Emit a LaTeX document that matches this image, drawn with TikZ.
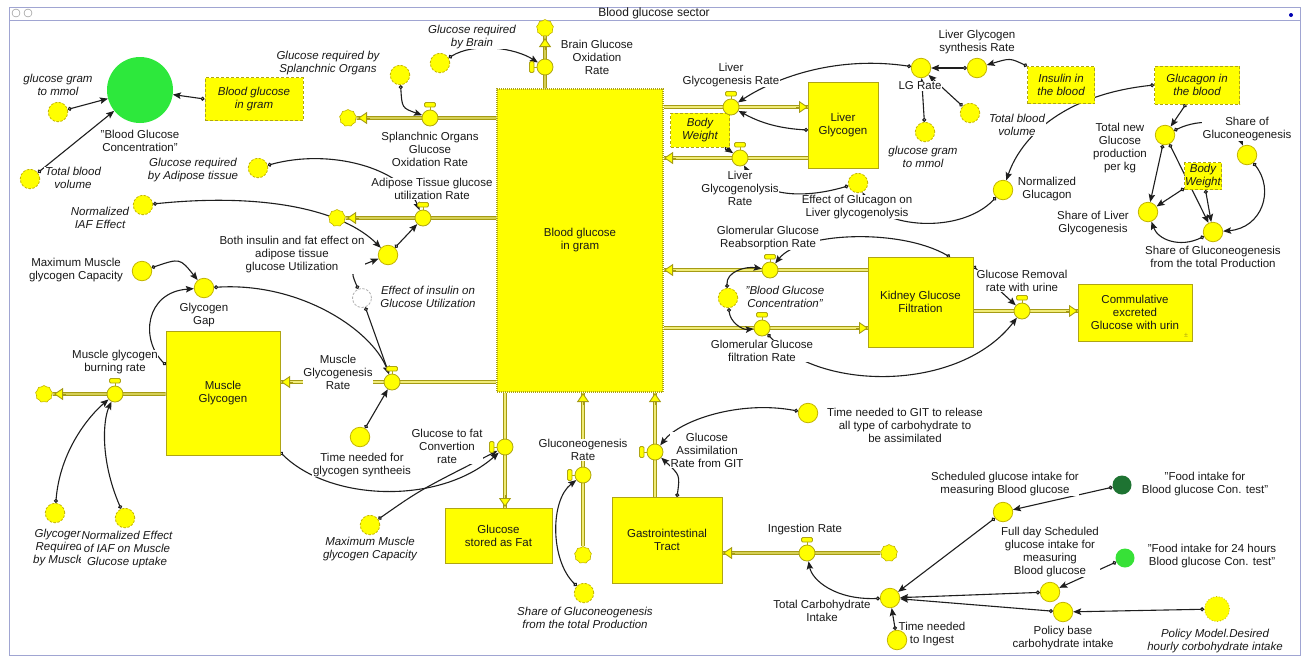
\documentclass[tikz,border=0pt]{standalone}
\usepackage{fontspec}
\setmainfont{Liberation Sans}
\usetikzlibrary{arrows.meta,shapes.symbols}
\definecolor{yel}{RGB}{255,255,0}
\definecolor{stockc}{RGB}{175,165,20}
\definecolor{pipec}{RGB}{165,155,20}
\definecolor{pipein}{RGB}{240,235,120}
\definecolor{convc}{RGB}{195,180,0}
\definecolor{connc}{RGB}{30,30,30}
\definecolor{txtc}{RGB}{25,25,25}
\definecolor{gbright}{RGB}{45,232,60}
\definecolor{glight}{RGB}{55,225,55}
\definecolor{gdark}{RGB}{30,115,50}
\definecolor{framec}{RGB}{160,165,210}
\pgfdeclarelayer{pipes}\pgfdeclarelayer{conns}\pgfdeclarelayer{labels}
\pgfsetlayers{pipes,conns,labels,main}
\newcommand\lblfont{\fontsize{11.5}{13}\selectfont}
\newcommand\ilblfont{\fontsize{11.5}{13}\selectfont\itshape}
\tikzset{
 lbl/.style={font=\lblfont, align=center, inner sep=0.6pt, fill=white, text=txtc},
 ilbl/.style={lbl, font=\ilblfont},
 stock/.style={draw=stockc, fill=yel, line width=0.9pt, font=\lblfont, align=center, text=txtc, inner sep=0},
 conv/.style={circle, draw=convc, fill=yel, line width=0.8pt, minimum size=19.5pt, inner sep=0},
 gconv/.style={conv, dash pattern=on 2.5pt off 1.5pt},
 valvec/.style={circle, draw=stockc, fill=yel, line width=0.8pt, minimum size=16pt, inner sep=0},
 tapst/.style={draw=stockc, fill=yel, line width=0.8pt},
 cloudn/.style={cloud, cloud puffs=9, cloud puff arc=110, aspect=1, draw=convc, fill=yel, minimum width=17pt, minimum height=17pt, inner sep=0, line width=0.6pt},
 conn/.style={draw=connc, line width=1.1pt, arrows={Circle[length=4pt, fill=white]-Stealth[length=8pt, width=6.5pt, inset=1.5pt]}},
 pipeo/.style={draw=pipec, line width=3.8pt},
 pipei/.style={draw=pipein, line width=1.4pt},
 ftip/.style={draw=pipec, line width=0.9pt, arrows={-Triangle[length=9pt, width=12pt, fill=yel]}},
 dbox/.style={draw=stockc, dash pattern=on 3pt off 2pt, fill=yel, line width=0.9pt, font=\ilblfont, align=center, text=txtc, inner sep=0},
}
\newcommand\valveT[3]{%
  \node[valvec] (#1) at (#2,#3) {};
  \draw[tapst] (#2,#3-8) -- (#2,#3-11);
  \draw[tapst, rounded corners=1.2pt] (#2-5.5,#3-11) rectangle (#2+5.5,#3-15.5);
}
\newcommand\valveL[3]{%
  \node[valvec] (#1) at (#2,#3) {};
  \draw[tapst] (#2-8,#3) -- (#2-11,#3);
  \draw[tapst, rounded corners=1.2pt] (#2-11,#3-5.5) rectangle (#2-15.5,#3+5.5);
}
\newcommand\flowpipe[1]{\draw[pipeo] #1; \draw[pipei] #1;}
\begin{document}
\begin{tikzpicture}[x=1pt,y=-1pt]
\useasboundingbox (0,0) rectangle (1307,657);
\begin{pgfonlayer}{pipes}
\fill[white] (0,0) rectangle (1307,657);
\draw[framec, line width=1pt] (9,7) rectangle (1300,655);
\draw[framec, line width=0.8pt] (9,20) -- (1300,20);
\end{pgfonlayer}
\node[font=\fontsize{12}{13}\selectfont, text=txtc] (title) at (654,13) {Blood glucose sector};
\node[circle, draw=gray, minimum size=8pt, inner sep=0] (ic1) at (16,13) {};
\node[circle, draw=gray, minimum size=8pt, inner sep=0] (ic2) at (28,13) {};
\node[circle, fill=blue!70!black, minimum size=4pt, inner sep=0] (bdot) at (1291,15) {};

% ---------- stocks
\node[stock, dash pattern=on 1pt off 1pt, line width=1.4pt, minimum width=166pt, minimum height=303pt] (BG) at (580,240.5) {Blood glucose\\in gram};
\node[stock, minimum width=70pt, minimum height=86pt] (LG) at (843,125) {Liver\\Glycogen};
\node[stock, minimum width=114pt, minimum height=124pt] (MG) at (223,393) {Muscle\\Glycogen};
\node[stock, minimum width=107pt, minimum height=55pt] (GSF) at (498.5,535.5) {Glucose\\stored as Fat};
\node[stock, minimum width=110pt, minimum height=86pt] (GIT) at (667,540) {Gastrointestinal\\Tract};
\node[stock, minimum width=105pt, minimum height=90pt] (KGF) at (920.5,302) {Kidney Glucose\\Filtration};
\node[stock, minimum width=114pt, minimum height=57pt] (CEG) at (1135,312.5) {Commulative\\excreted\\Glucose with urin};
\node[font=\fontsize{7}{8}\selectfont, text=stockc] (pm) at (1186,335) {±};

% ---------- dashed boxes
\node[dbox, minimum width=98pt, minimum height=43pt] (BGIG) at (254,99) {Blood glucose\\in gram};
\node[dbox, minimum width=59pt, minimum height=34pt] (BW1) at (700,130) {Body\\Weight};
\node[dbox, minimum width=67pt, minimum height=37pt] (IB) at (1061,85) {Insulin in\\the blood};
\node[dbox, minimum width=85pt, minimum height=38pt] (GB) at (1197,85) {Glucagon in\\the blood};
\node[dbox, minimum width=37pt, minimum height=27pt] (BW2) at (1203,176) {Body\\Weight};

% ---------- clouds
\node[cloudn] (CBrain) at (545,28) {};
\node[cloudn] (CSpl) at (348,118) {};
\node[cloudn] (CAdi) at (337,218) {};
\node[cloudn] (CMB) at (44,394) {};
\node[cloudn] (CGN) at (583,555) {};
\node[cloudn] (CIng) at (889,553) {};

% ---------- valves
\valveL{VBrain}{545}{67}
\valveT{VSpl}{430}{118}
\valveT{VAdi}{423}{218}
\valveT{VMG}{392}{382}
\valveT{VMB}{115}{394}
\valveL{VGF}{505}{447}
\valveL{VGN}{583}{475}
\valveL{VGA}{655}{452}
\valveT{VIng}{807}{553}
\valveT{VLGR}{731}{107}
\valveT{VLGN}{740}{158}
\valveT{VGGR}{770}{270}
\valveT{VGGF}{762}{328}
\valveT{VGR}{1022}{311}

% ---------- converters
\node[circle, fill=gbright, minimum size=66pt, inner sep=0] (BGC) at (140,90) {};
\node[gconv] (GGM1) at (58,112) {};
\node[gconv] (TBV1) at (30,179) {};
\node[gconv] (GrSpl) at (400,75) {};
\node[gconv] (GrB) at (440,63) {};
\node[gconv] (GrA) at (258,168) {};
\node[gconv] (NIAF) at (143,205) {};
\node[conv] (BIF) at (388,255) {};
\node[circle, draw=gray!60, fill=white, dash pattern=on 2.5pt off 1.5pt, line width=0.8pt, minimum size=19pt, inner sep=0] (EIGU) at (362,298) {};
\node[conv] (GG) at (204,288) {};
\node[conv] (MMGC1) at (142,271) {};
\node[conv] (TNGS) at (360,437) {};
\node[gconv] (GRM) at (55,513) {};
\node[gconv] (NEIAF) at (125,518) {};
\node[gconv] (MMGC2) at (370,525) {};
\node[gconv] (SGTb) at (584,593) {};
\node[conv] (TGIT) at (808,413) {};
\node[conv] (TCI) at (890,598) {};
\node[conv] (TNI) at (897,640) {};
\node[conv] (SGI) at (1003,512) {};
\node[circle, fill=gdark, minimum size=19pt, inner sep=0] (FIBG) at (1122,485) {};
\node[conv] (FDS) at (1050,592) {};
\node[circle, fill=glight, minimum size=19pt, inner sep=0] (F24) at (1125,558) {};
\node[conv] (PBI) at (1063,612) {};
\node[conv, dotted, minimum size=25pt] (PMD) at (1217,609) {};
\node[conv] (LGRate) at (921,68) {};
\node[conv] (LGSR) at (977,68) {};
\node[gconv] (TBV2) at (970,113) {};
\node[gconv] (GGM2) at (925,132) {};
\node[gconv] (EG) at (858,183) {};
\node[conv] (NG) at (1003,190) {};
\node[conv] (TNG) at (1165,135) {};
\node[conv] (SG) at (1247,155) {};
\node[conv] (SGT2) at (1213,232) {};
\node[conv] (SLG) at (1148,212) {};
\node[gconv] (BGC2) at (728,298) {};

\coordinate (mgo) at (166,365);
\coordinate (mgb) at (280,452);
\coordinate (gito) at (677,497);
\coordinate (lgo) at (808,130);
\coordinate (kgo) at (950,257);
\coordinate (kgr) at (973,266);
\coordinate (gbo) at (1186,104);

% ---------- flow pipes
\begin{pgfonlayer}{pipes}
\flowpipe{(VBrain|-BG.north) -- (CBrain)}
\flowpipe{(BG.west|-VSpl) -- (CSpl)}
\flowpipe{(BG.west|-VAdi) -- (CAdi)}
\flowpipe{(BG.west|-VMG) -- (MG.east|-VMG)}
\flowpipe{(MG.west|-VMB) -- (CMB)}
\flowpipe{(VGF|-BG.south) -- (VGF|-GSF.north)}
\flowpipe{(CGN) -- (VGN|-BG.south)}
\flowpipe{(VGA|-GIT.north) -- (VGA|-BG.south)}
\flowpipe{(CIng) -- (GIT.east|-VIng)}
\flowpipe{(BG.east|-VLGR) -- (LG.west|-VLGR)}
\flowpipe{(LG.west|-VLGN) -- (BG.east|-VLGN)}
\flowpipe{(KGF.west|-VGGR) -- (BG.east|-VGGR)}
\flowpipe{(BG.east|-VGGF) -- (KGF.west|-VGGF)}
\flowpipe{(KGF.east|-VGR) -- (CEG.west|-VGR)}
\end{pgfonlayer}
% flow heads
\draw[ftip] (545,50) -- (545,38);
\draw[ftip] (370,118) -- (358,118);
\draw[ftip] (359,218) -- (347,218);
\draw[ftip] (293,382) -- (281,382);
\draw[ftip] (66,394) -- (54,394);
\draw[ftip] (505,495) -- (505,507);
\draw[ftip] (583,405) -- (583,393);
\draw[ftip] (655,405) -- (655,393);
\draw[ftip] (735,553) -- (723,553);
\draw[ftip] (796,107) -- (808,107);
\draw[ftip] (676,158) -- (664,158);
\draw[ftip] (676,270) -- (664,270);
\draw[ftip] (856,328) -- (868,328);
\draw[ftip] (1066,311) -- (1078,311);

% ---------- connectors
\begin{pgfonlayer}{conns}
\draw[conn] (GGM1) -- (BGC);
\draw[conn] (TBV1) -- (BGC);
\draw[conn] (BGIG.west) -- (BGC);
\draw[conn] (GrSpl) .. controls (402,108) .. (VSpl);
\draw[conn] (GrB) .. controls (475,42) and (515,48) .. (VBrain);
\draw[conn] (GrA) .. controls (330,148) and (402,168) .. (VAdi);
\draw[conn] (NIAF) .. controls (270,192) and (345,212) .. (BIF);
\draw[conn] (BIF) -- (VAdi);
\draw[conn] (EIGU) .. controls (350,270) .. (BIF);
\draw[conn] (EIGU) -- (VMG);
\draw[conn] (GG) .. controls (300,282) and (372,330) .. (VMG);
\draw[conn] (TNGS) -- (VMG);
\draw[conn] (MMGC1) .. controls (180,258) .. (GG);
\draw[conn] (mgo) .. controls (140,340) and (145,292) .. (GG);
\draw[conn] (GRM) .. controls (60,450) and (90,415) .. (VMB);
\draw[conn] (NEIAF) .. controls (100,460) and (103,420) .. (VMB);
\draw[conn] (mgb) .. controls (330,502) and (440,505) .. (VGF);
\draw[conn] (MMGC2) .. controls (420,490) .. (VGF);
\draw[conn] (SGTb) .. controls (550,560) and (550,500) .. (VGN);
\draw[conn] (TGIT) .. controls (740,400) and (680,420) .. (VGA);
\draw[conn] (gito) .. controls (680,475) .. (VGA);
\draw[conn] (TCI) .. controls (835,600) and (812,580) .. (VIng);
\draw[conn] (TNI) -- (TCI);
\draw[conn] (FIBG) -- (SGI);
\draw[conn] (SGI) -- (TCI);
\draw[conn] (F24) -- (FDS);
\draw[conn] (FDS) -- (TCI);
\draw[conn] (PBI) -- (TCI);
\draw[conn] (PMD) -- (PBI);
\draw[conn] (lgo) .. controls (770,128) and (752,118) .. (VLGR);
\draw[conn] (LGRate) .. controls (840,56) and (780,75) .. (VLGR);
\draw[conn] (BW1) -- (VLGN);
\draw[conn] (EG) .. controls (800,200) and (760,195) .. (VLGN);
\draw[conn] (LGSR) -- (LGRate);
\draw[conn] (IB.north west) .. controls (1010,58) .. (LGSR);
\draw[conn] (TBV2) -- (LGRate);
\draw[conn] (GGM2) -- (LGRate);
\draw[conn] (NG) .. controls (960,235) and (880,228) .. (EG);
\draw[conn] (GB.west) .. controls (1060,95) and (1020,140) .. (NG);
\draw[conn] (gbo) -- (TNG);
\draw[conn] (TNG) .. controls (1200,118) and (1232,120) .. (SG);
\draw[conn] (SG) .. controls (1275,190) and (1262,228) .. (SGT2);
\draw[conn] (TNG) -- (SLG);
\draw[conn] (TNG) -- (SGT2);
\draw[conn] (BW2) -- (SLG);
\draw[conn] (BW2) -- (SGT2);
\draw[conn] (SGT2) .. controls (1180,248) and (1158,240) .. (SLG);
\draw[conn] (BGC2) .. controls (726,272) and (745,266) .. (VGGR);
\draw[conn] (BGC2) .. controls (730,322) and (742,330) .. (VGGF);
\draw[conn] (kgo) .. controls (900,228) and (800,232) .. (VGGR);
\draw[conn] (VGGF) .. controls (820,392) and (960,392) .. (VGR);
\draw[conn] (kgr) -- (VGR);
\end{pgfonlayer}

% ---------- labels
\begin{pgfonlayer}{labels}
\node[lbl] (LBGC) at (140,141) {"Blood Glucose\\Concentration"};
\node[ilbl] (LGGM1) at (58,85) {glucose gram\\to mmol};
\node[ilbl] (LTBV1) at (73,178) {Total blood\\volume};
\node[ilbl] (LGrSpl) at (328,63) {Glucose required by\\Splanchnic Organs};
\node[ilbl] (LGrB) at (472,37) {Glucose required\\by Brain};
\node[lbl] (LBrain) at (597,57) {Brain Glucose\\Oxidation\\Rate};
\node[lbl] (LSpl) at (430,149) {Splanchnic Organs\\Glucose\\Oxidation Rate};
\node[ilbl] (LGrA) at (193,170) {Glucose required\\by Adipose tissue};
\node[lbl] (LAdi) at (432,189) {Adipose Tissue glucose\\utilization Rate};
\node[ilbl] (LNIAF) at (100,218) {Normalized\\IAF Effect};
\node[lbl] (LBIF) at (292,255) {Both insulin and fat effect on\\adipose tissue\\glucose Utilization};
\node[ilbl] (LEIGU) at (428,297) {Effect of insulin on\\Glucose Utilization};
\node[lbl] (LMMGC1) at (76,270) {Maximum Muscle\\glycogen Capacity};
\node[lbl] (LGG) at (204,315) {Glycogen\\Gap};
\node[lbl] (LMB) at (115,362) {Muscle glycogen\\burning rate};
\node[lbl] (LMG) at (338,372) {Muscle\\Glycogenesis\\Rate};
\node[lbl] (LTNGS) at (362,465) {Time needed for\\glycogen syntheeis};
\node[ilbl] (LGRM) at (59,548) {Glycogen\\Required\\by Muscle};
\node[ilbl] (LNEIAF) at (127,550) {Normalized Effect\\of IAF on Muscle\\Glucose uptake};
\node[ilbl] (LMMGC2) at (370,549) {Maximum Muscle\\glycogen Capacity};
\node[lbl] (LGF) at (447,446) {Glucose to fat\\Convertion\\rate};
\node[lbl] (LGN) at (583,450) {Gluconeogenesis\\Rate};
\node[ilbl] (LSGTb) at (585,618) {Share of Gluconeogenesis\\from the total Production};
\node[lbl] (LGA) at (707,450) {Glucose\\Assimilation\\Rate from GIT};
\node[lbl] (LTGIT) at (905,425) {Time needed to GIT to release\\all type of carbohydrate to\\be assimilated};
\node[lbl] (LIng) at (805,530) {Ingestion Rate};
\node[lbl] (LTCI) at (822,611) {Total Carbohydrate\\Intake};
\node[lbl] (LTNI) at (932,634) {Time needed\\to Ingest};
\node[lbl] (LSGI) at (1005,484) {Scheduled glucose intake for\\measuring Blood glucose};
\node[lbl] (LFIBG) at (1205,484) {"Food intake for\\Blood glucose Con. test"};
\node[lbl] (LFDS) at (1050,552) {Full day Scheduled\\glucose intake for\\measuring\\Blood glucose};
\node[lbl] (LF24) at (1212,556) {"Food intake for 24 hours\\Blood glucose Con. test"};
\node[lbl] (LPBI) at (1063,638) {Policy base\\carbohydrate intake};
\node[ilbl] (LPMD) at (1215,641) {Policy Model.Desired\\hourly corbohydrate intake};
\node[lbl] (LLGR) at (731,75) {Liver\\Glycogenesis Rate};
\node[lbl] (LLGN) at (740,188) {Liver\\Glycogenolysis\\Rate};
\node[lbl] (LLGRate) at (920,86) {LG Rate};
\node[lbl] (LLGSR) at (977,42) {Liver Glycogen\\synthesis Rate};
\node[ilbl] (LTBV2) at (1017,125) {Total blood\\volume};
\node[ilbl] (LGGM2) at (923,157) {glucose gram\\to mmol};
\node[lbl] (LEG) at (857,207) {Effect of Glucagon on\\Liver glycogenolysis};
\node[lbl] (LNG) at (1047,189) {Normalized\\Glucagon};
\node[lbl] (LTNG) at (1120,148) {Total new\\Glucose\\production\\per kg};
\node[lbl] (LSG) at (1247,129) {Share of\\Gluconeogenesis};
\node[lbl] (LSLG) at (1093,223) {Share of Liver\\Glycogenesis};
\node[lbl] (LSGT2) at (1213,257) {Share of Gluconeogenesis\\from the total Production};
\node[lbl] (LGGR) at (768,238) {Glomerular Glucose\\Reabsorption Rate};
\node[lbl] (LGGF) at (762,351) {Glomerular Glucose\\filtration Rate};
\node[ilbl] (LBGC2) at (785,297) {"Blood Glucose\\Concentration"};
\node[lbl] (LGR) at (1022,281) {Glucose Removal\\rate with urine};
\end{pgfonlayer}
\end{tikzpicture}
\end{document}
